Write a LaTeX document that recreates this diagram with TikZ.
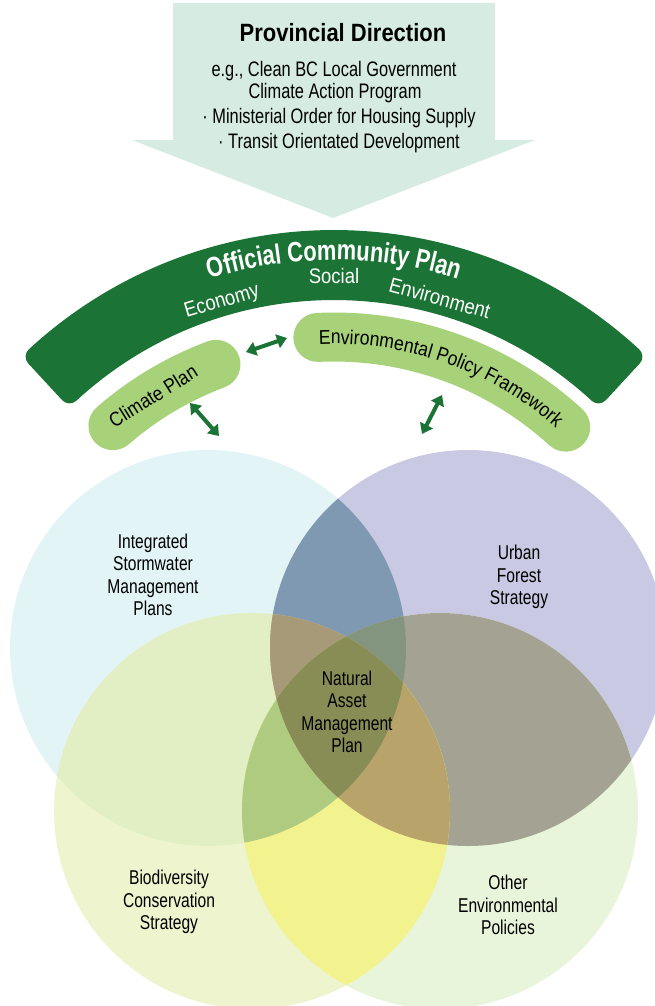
\documentclass[tikz,border=0pt]{standalone}
\usepackage{fontspec}
\setmainfont{Liberation Sans}
\newfontfamily\condfont{Liberation Sans}[FakeStretch=0.78]
\newfontfamily\headfont{Liberation Sans}[FakeStretch=0.88]
\usetikzlibrary{arrows.meta, decorations.text}

\definecolor{arrowfill}{HTML}{D6ECE3}
\definecolor{ocpgreen}{HTML}{1B7435}
\definecolor{pillgreen}{HTML}{A8D27A}
\definecolor{cTL}{HTML}{E3F4F6}
\definecolor{cTR}{HTML}{C9C9E3}
\definecolor{cBL}{HTML}{EEF5CE}
\definecolor{cBR}{HTML}{E8F5DA}
\definecolor{cTLTR}{HTML}{7F99B3}
\definecolor{cTLBL}{HTML}{E2EFC4}
\definecolor{cTLBR}{HTML}{AFCB80}
\definecolor{cTRBL}{HTML}{B8A46A}
\definecolor{cTRBR}{HTML}{A4A393}
\definecolor{cBLBR}{HTML}{F2F38F}
\definecolor{cTLTRBL}{HTML}{A79A78}
\definecolor{cTLTRBR}{HTML}{84957F}
\definecolor{cTLBLBR}{HTML}{AFCB80}
\definecolor{cTRBLBR}{HTML}{B8A46A}
\definecolor{cAll}{HTML}{888C55}

\newcommand{\ocpfont}{\condfont\bfseries\fontsize{28}{30}\selectfont}
\newcommand{\pillfont}{\headfont\fontsize{20}{22}\selectfont}

\tikzset{
  venn/.style = {align=center, text=black, font=\condfont\fontsize{20}{22.5}\selectfont},
  headline/.style = {anchor=base, text=black, font=\condfont\fontsize{21}{24}\selectfont},
  bandword/.style = {anchor=base, text=white, font=\headfont\fontsize{21}{24}\selectfont},
  pill/.style = {draw=pillgreen, line width=49, line cap=round},
  twoway/.style = {draw=ocpgreen, line width=4, {Triangle[width=14pt,length=10pt]}-{Triangle[width=14pt,length=10pt]}}
}

\begin{document}
\begin{tikzpicture}[x=1pt, y=1pt]
    \useasboundingbox (0,0) rectangle (655,-1006);

    \coordinate (tl) at (208,-648);
    \coordinate (tr) at (468,-648);
    \coordinate (bl) at (252,-811);
    \coordinate (br) at (440,-811);
    \def\vr{198}

    \fill[cTL] (tl) circle[radius=\vr];
    \fill[cTR] (tr) circle[radius=\vr];
    \fill[cBL] (bl) circle[radius=\vr];
    \fill[cBR] (br) circle[radius=\vr];

    \begin{scope}
      \clip (tl) circle[radius=\vr];
      \fill[cTLTR] (tr) circle[radius=\vr];
    \end{scope}
    \begin{scope}
      \clip (tl) circle[radius=\vr];
      \fill[cTLBL] (bl) circle[radius=\vr];
    \end{scope}
    \begin{scope}
      \clip (tl) circle[radius=\vr];
      \fill[cTLBR] (br) circle[radius=\vr];
    \end{scope}
    \begin{scope}
      \clip (tr) circle[radius=\vr];
      \fill[cTRBL] (bl) circle[radius=\vr];
    \end{scope}
    \begin{scope}
      \clip (tr) circle[radius=\vr];
      \fill[cTRBR] (br) circle[radius=\vr];
    \end{scope}
    \begin{scope}
      \clip (bl) circle[radius=\vr];
      \fill[cBLBR] (br) circle[radius=\vr];
    \end{scope}

    \begin{scope}
      \clip (tl) circle[radius=\vr];
      \clip (tr) circle[radius=\vr];
      \fill[cTLTRBL] (bl) circle[radius=\vr];
    \end{scope}
    \begin{scope}
      \clip (tl) circle[radius=\vr];
      \clip (tr) circle[radius=\vr];
      \fill[cTLTRBR] (br) circle[radius=\vr];
    \end{scope}
    \begin{scope}
      \clip (tl) circle[radius=\vr];
      \clip (bl) circle[radius=\vr];
      \fill[cTLBLBR] (br) circle[radius=\vr];
    \end{scope}
    \begin{scope}
      \clip (tr) circle[radius=\vr];
      \clip (bl) circle[radius=\vr];
      \fill[cTRBLBR] (br) circle[radius=\vr];
    \end{scope}
    \begin{scope}
      \clip (tl) circle[radius=\vr];
      \clip (tr) circle[radius=\vr];
      \clip (bl) circle[radius=\vr];
      \fill[cAll] (br) circle[radius=\vr];
    \end{scope}

    \node[venn] (ismp) at (153,-575) {Integrated\\Stormwater\\Management\\Plans};
    \node[venn] (ufs) at (519,-577) {Urban\\Forest\\Strategy};
    \node[venn] (namp) at (347,-712) {Natural\\Asset\\Management\\Plan};
    \node[venn] (bcs) at (169,-902) {Biodiversity\\Conservation\\Strategy};
    \node[venn] (oep) at (508,-905) {Other\\Environmental\\Policies};

    \fill[arrowfill] (173,-3) -- (495,-3) -- (495,-140) -- (535,-140) -- (333,-218)
      -- (132,-140) -- (173,-140) -- cycle;
    \node[anchor=base, text=black, font=\headfont\bfseries\fontsize{25}{28}\selectfont] (provdir) at (343,-42) {Provincial Direction};
    \node[headline] (egline) at (334,-77) {e.g., Clean BC Local Government};
    \node[headline] (caprog) at (335,-99) {Climate Action Program};
    \node[headline] (mohs) at (339,-124) {· Ministerial Order for Housing Supply};
    \node[headline] (tod) at (339,-149) {· Transit Orientated Development};

    \coordinate (ocp) at (334,-680);
    \filldraw[ocpgreen, line width=20, line join=round]
      ([shift={(132.7:440)}]ocp) arc[start angle=132.7, end angle=47.3, radius=440]
      -- ([shift={(47.3:390)}]ocp) arc[start angle=47.3, end angle=132.7, radius=390] -- cycle;
    \path[decorate, decoration={text along path, text={|\ocpfont|Official Community Plan},
      text align=center, text color=white}]
      ([shift={(125:420)}]ocp) arc[start angle=125, end angle=55, radius=420];
    \node[bandword, rotate=16.5] (economy) at ([shift={(106.5:389)}]ocp) {Economy};
    \node[bandword] (social) at ([shift={(90:397)}]ocp) {Social};
    \node[bandword, rotate=-15.5] (environment) at ([shift={(74.5:389)}]ocp) {Environment};

    \draw[pill] ([shift={(110.5:337)}]ocp) arc[start angle=110.5, end angle=131, radius=337];
    \draw[pill] ([shift={(92.7:343)}]ocp) arc[start angle=92.7, end angle=47.5, radius=343];
    \node[rotate=32, text=black, font=\pillfont] (climate) at (153,-396) {Climate Plan};
    \path[decorate, decoration={text along path, text={|\pillfont|Environmental Policy Framework},
      text align=center}]
      ([shift={(95.6:336)}]ocp) arc[start angle=95.6, end angle=45.6, radius=336];

    \coordinate (cpright) at (246,-352);
    \coordinate (epfleft) at (287,-338);
    \coordinate (cpdown) at (190,-403);
    \coordinate (vennleft) at (219,-436);
    \coordinate (epfdown) at (442,-395);
    \coordinate (vennright) at (422,-434);
    \draw[twoway] (cpright) -- (epfleft);
    \draw[twoway] (cpdown) -- (vennleft);
    \draw[twoway] (epfdown) -- (vennright);
\end{tikzpicture}
\end{document}
